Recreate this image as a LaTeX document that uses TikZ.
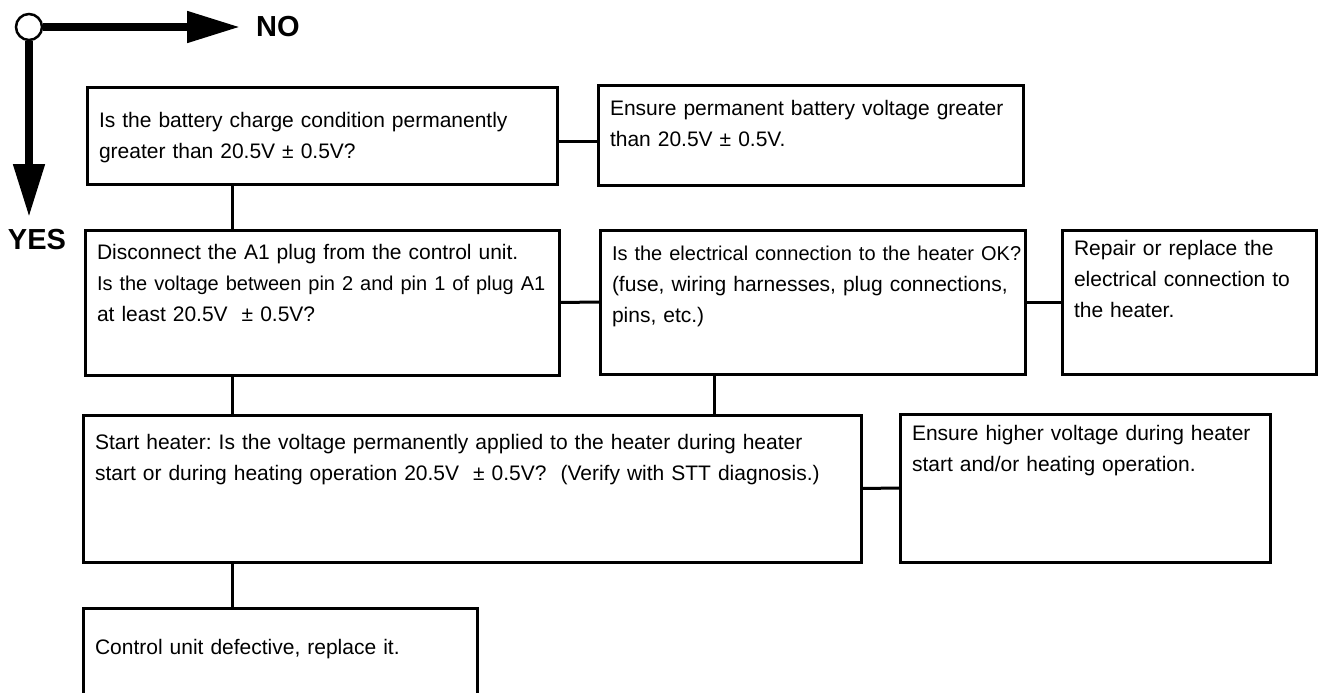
\documentclass[tikz,border=0pt]{standalone}
\usepackage{fontspec}
\setmainfont{Liberation Sans}
\usetikzlibrary{arrows.meta,positioning}
\tikzset{
	>={Triangle[length=53pt,width=30pt]},
	box/.style={draw, line width=3pt, anchor=north west, inner xsep=12pt, inner ysep=0pt,
				outer sep=0pt, align=left, font=\fontsize{21}{31}\selectfont\frenchspacing},
	link/.style={line width=3pt},
	answer/.style={font=\fontsize{29}{29}\selectfont\bfseries, inner sep=0pt},
}

\begin{document}
\begin{tikzpicture}[x=1pt, y=-1pt]

\useasboundingbox (0,0) rectangle (1318,693);

\coordinate (notip) at (240,27);
\coordinate (yestip) at (29,217);
\node[circle, draw, fill=white, line width=2.5pt, minimum size=26pt, inner sep=0pt](origin) at (29,27) {};
\draw[->, line width=8pt] (origin) -- (notip);
\draw[->, line width=8pt] (origin) -- (yestip);
\node[answer, anchor=west](no) at (256,27) {NO};
\node[answer](yes) at (37,240) {YES};

\node[box, text width=446pt, text height=40pt, text depth=56pt](battery) at (87,88)
	{Is the battery charge condition permanently\\greater than 20.5V ± 0.5V?};
\node[box, text width=401pt, text height=29.5pt, text depth=69.5pt](ensurebat) at (598,86)
	{\mbox{Ensure permanent battery voltage greater}\\than 20.5V ± 0.5V.};
\node[box, text width=450pt, text height=29.5pt, text depth=115.5pt](disconnect) at (85,230)
	{Disconnect the A1 plug from the control unit.\\\mbox{\fontsize{20}{31}\selectfont Is the voltage between pin 2 and pin 1 of plug A1}\\at least 20.5V~ ± 0.5V?};
\node[box, text width=401pt, text height=30.5pt, text depth=113.5pt](connection) at (600,230)
	{\mbox{\fontsize{20}{31}\selectfont Is the electrical connection to the heater OK?}\\(fuse, wiring harnesses, plug connections,\\pins, etc.)};
\node[box, text width=230pt, text height=25.5pt, text depth=118.5pt](repair) at (1062,230)
	{Repair or replace the\\electrical connection to\\the heater.};
\node[box, text width=754pt, text height=34.5pt, text depth=112.5pt](start) at (83,415)
	{Start heater: Is the voltage permanently applied to the heater during heater\\start or during heating operation 20.5V~ ± 0.5V?~ (Verify with STT diagnosis.)};
\node[box, text width=346pt, text height=26.5pt, text depth=121.5pt](higher) at (900,414)
	{Ensure higher voltage during heater\\start and/or heating operation.};
\node[box, text width=370pt, text height=46.5pt, text depth=63.5pt](defective) at (83,608)
	{Control unit defective, replace it.};

\draw[link] (battery.east |- 0,141) -- (ensurebat.west |- 0,141);
\draw[link] (232,0 |- battery.south) -- (232,0 |- disconnect.north);
\draw[link] (disconnect.east) -- (connection.west);
\draw[link] (connection.east) -- (repair.west);
\draw[link] (232,0 |- disconnect.south) -- (232,0 |- start.north);
\draw[link] (714,0 |- connection.south) -- (714,0 |- start.north);
\draw[link] (start.east) -- (higher.west);
\draw[link] (232,0 |- start.south) -- (232,0 |- defective.north);

\end{tikzpicture}
\end{document}
